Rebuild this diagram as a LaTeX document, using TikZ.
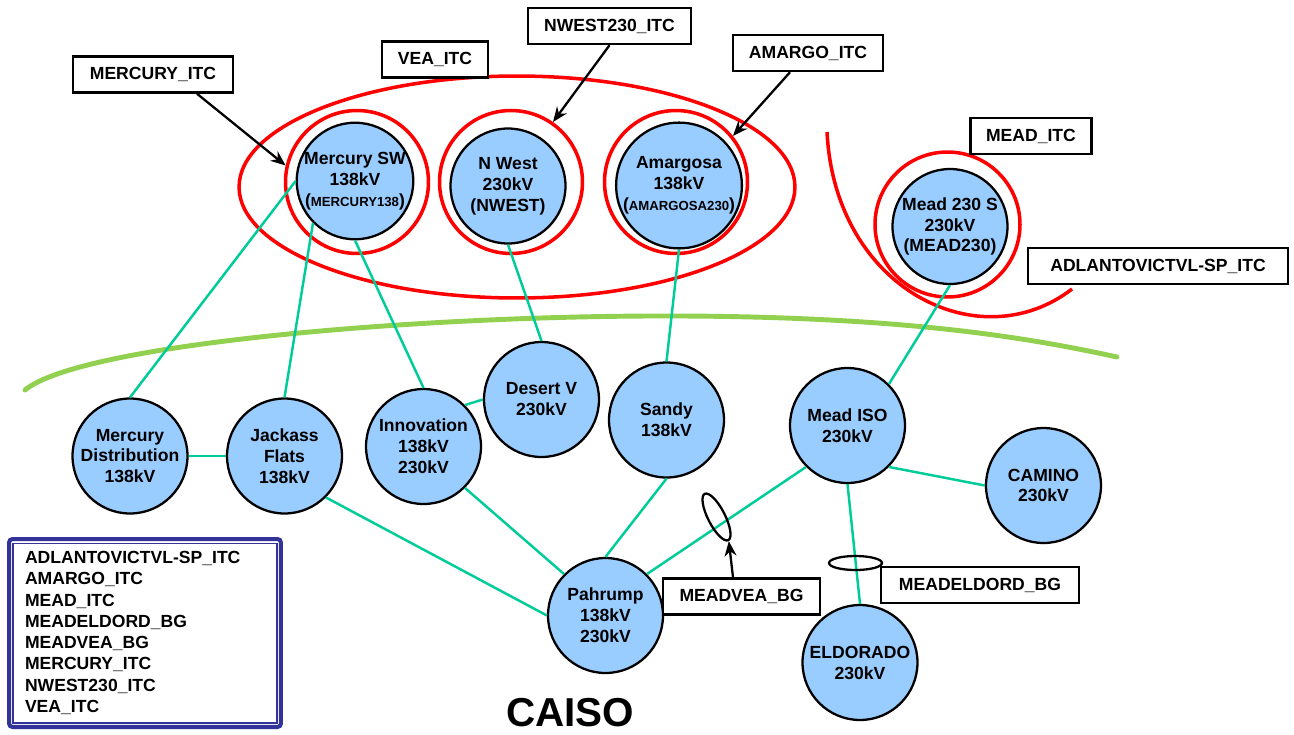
\documentclass[tikz,border=0pt]{standalone}
\usepackage{fontspec}
\setmainfont{Liberation Sans}
\usetikzlibrary{positioning,shapes.geometric,arrows.meta}
\definecolor{busblue}{RGB}{153,204,255}
\definecolor{tiegreen}{RGB}{0,204,153}
\definecolor{borderlime}{RGB}{146,208,80}
\definecolor{legendnavy}{RGB}{51,51,153}
\tikzset{bus/.style={circle, draw, line width=1.3pt, fill=busblue, minimum size=2.3cm, inner sep=0pt, align=center, font=\fontsize{10}{11.9}\selectfont\bfseries}}
\tikzset{itcring/.style={circle, draw=red, line width=2pt, minimum size=2.86cm, inner sep=0pt}}
\tikzset{tagbox/.style={rectangle, draw, line width=1.4pt, fill=white, minimum height=0.72cm, inner sep=0pt, font=\fontsize{10}{12}\selectfont\bfseries}}
\tikzset{tie/.style={draw=tiegreen, line width=1.4pt}}
\tikzset{pointer/.style={-{Stealth[length=0.3cm,width=0.24cm]}, line width=1.3pt}}
\tikzset{bgring/.style={ellipse, draw, line width=1.3pt, inner sep=0pt}}

\begin{document}
\begin{tikzpicture}[x=0.02cm, y=-0.02cm]
\useasboundingbox (0,0) rectangle (1294,734);
% ITC areas
\node[ellipse, draw=red, line width=2pt, minimum width=11.12cm, minimum height=4.44cm] (VEA) at (517,187) {};
\node[itcring] (MercSWRing) at (357,182) {};
\node[itcring] (NWestRing) at (511,182) {};
\node[itcring] (AmargosaRing) at (676,182) {};
\node[itcring, minimum size=2.9cm] (MeadSRing) at (947.5,224.5) {};
\draw[red, line width=2pt] (827,132) .. controls (835,290) and (980,360) .. (1072,289);
% CAISO border
\draw[borderlime, line width=2.8pt, line cap=round] (25,390) .. controls (80,345) and (400,317) .. (650,316) .. controls (900,315) and (1030,338) .. (1117,357);

\node[bus] (MercSW) at (355,181) {Mercury SW\\138kV\\({\fontsize{7.5}{9}\selectfont MERCURY138})};
\node[bus] (NWest) at (508,186) {N West\\230kV\\(NWEST)};
\node[bus] (Amargosa) at (679,185.5) {Amargosa\\138kV\\({\fontsize{7.5}{9}\selectfont AMARGOSA230})};
\node[bus] (MeadS) at (950,226.5) {Mead 230 S\\230kV\\(MEAD230)};
\node[bus] (MercDist) at (130,456) {Mercury\\Distribution\\138kV};
\node[bus] (Jackass) at (284.5,456) {Jackass\\Flats\\138kV};
\node[bus] (Innovation) at (423.5,446.5) {Innovation\\138kV\\230kV};
\node[bus] (DesertV) at (541.5,399.5) {Desert V\\230kV};
\node[bus] (Sandy) at (666.5,420) {Sandy\\138kV};
\node[bus] (MeadISO) at (847.5,425.5) {Mead ISO\\230kV};
\node[bus] (Camino) at (1043.5,485.5) {CAMINO\\230kV};
\node[bus] (Pahrump) at (605.5,615.5) {Pahrump\\138kV\\230kV};
\node[bus] (Eldorado) at (860,662.5) {ELDORADO\\230kV};

\draw[tie] (MercSW.west) -- (MercDist.north);
\draw[tie] (MercSW.south west) -- (Jackass.north);
\draw[tie] (MercSW.south) -- (Innovation.north);
\draw[tie] (NWest.south) -- (DesertV.north);
\draw[tie] (Amargosa.south) -- (Sandy.north);
\draw[tie] (Innovation.north east) -- (DesertV.west);
\draw[tie] (MercDist.east) -- (Jackass.west);
\draw[tie] (Jackass.south east) -- (Pahrump.west);
\draw[tie] (Innovation.south east) -- (Pahrump.north west);
\draw[tie] (Sandy.south) -- (Pahrump.north);
\draw[tie] (Pahrump.north east) -- (MeadISO.south west);
\draw[tie] (MeadISO.north east) -- (MeadS.south);
\draw[tie] (MeadISO.south east) -- (Camino.west);
\draw[tie] (MeadISO.south) -- (Eldorado.north);

% branch groups
\node[bgring, minimum width=0.34cm, minimum height=1.04cm, rotate=27] (MeadVEARing) at (716.5,517) {};
\node[bgring, minimum width=1.06cm, minimum height=0.28cm] (MeadEldRing) at (855.5,563) {};

\node[tagbox, minimum width=3.2cm] (MercITC) at (153,74.5) {MERCURY\_ITC};
\node[tagbox, minimum width=2.12cm] (VEAITC) at (435,59.5) {VEA\_ITC};
\node[tagbox, minimum width=3.26cm] (NWestITC) at (609.5,26) {NWEST230\_ITC};
\node[tagbox, minimum width=3.0cm] (AmargoITC) at (808,53) {AMARGO\_ITC};
\node[tagbox, minimum width=2.42cm] (MeadITC) at (1031,136) {MEAD\_ITC};
\node[tagbox, minimum width=5.2cm] (AdlantoITC) at (1158,266) {ADLANTOVICTVL-SP\_ITC};
\node[tagbox, minimum width=3.14cm] (MeadVEABG) at (741.5,596.5) {MEADVEA\_BG};
\node[tagbox, minimum width=3.96cm] (MeadEldBG) at (980,585) {MEADELDORD\_BG};

\draw[pointer] ([xshift=0.88cm]MercITC.south) -- (MercSWRing.167);
\draw[pointer] (NWestITC.south) -- (NWestRing.55);
\draw[pointer] ([xshift=-0.36cm]AmargoITC.south) -- (AmargosaRing.39);
\draw[pointer] ([xshift=-0.17cm]MeadVEABG.north) -- (MeadVEARing.south);

% legend
\node[rectangle, draw=legendnavy, line width=2.3pt, rounded corners=2pt, minimum width=5.44cm, minimum height=3.76cm] (Legend) at (145,633) {};
\node[rectangle, draw=legendnavy, line width=0.6pt, text width=4.8cm, inner xsep=0.24cm, minimum height=3.6cm, align=left, font=\fontsize{10}{12.1}\selectfont\bfseries] (LegendList) at (145,633) {ADLANTOVICTVL-SP\_ITC\\AMARGO\_ITC\\MEAD\_ITC\\MEADELDORD\_BG\\MEADVEA\_BG\\MERCURY\_ITC\\NWEST230\_ITC\\VEA\_ITC};

\node[font=\fontsize{23}{26}\selectfont\bfseries] (CAISO) at (570,713) {CAISO};
\end{tikzpicture}
\end{document}
